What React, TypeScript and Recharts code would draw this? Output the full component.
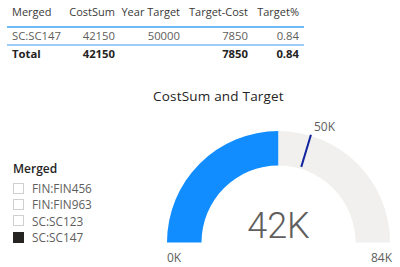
import React from "react";
import { PieChart, Pie, Cell } from "recharts";

const columns = ["Merged", "CostSum", "Year Target", "Target-Cost", "Target%"];
const rowValues = ["SC:SC147", "42150", "50000", "7850", "0.84"];
const totalValues = ["Total", "42150", "", "7850", "0.84"];
const legendItems = ["FIN:FIN456", "FIN:FIN963", "SC:SC123", "SC:SC147"];
const legendSelected = [false, false, false, true];

const costSum = 42150;
const yearTarget = 50000;
const gaugeMax = 84300;
const valueLabel = "42K";
const minLabel = "0K";
const maxLabel = "84K";
const targetLabel = "50K";

const valueData = [
  { name: "CostSum", value: costSum },
  { name: "Remaining", value: gaugeMax - costSum },
];
const targetData = [
  { name: "Target", value: yearTarget },
  { name: "Rest", value: gaugeMax - yearTarget },
];

const font = "'Open Sans', 'Noto Sans', sans-serif";
const colLeft = [12, 0, 0, 0, 0];
const colRight = [0, 115, 180, 248, 299];

const RAD = Math.PI / 180;

function TargetMarker(props: any) {
  if (props.index !== 0) return null;
  const { cx, cy, endAngle, innerRadius, outerRadius } = props;
  const a = -endAngle * RAD;
  const x1 = cx + (innerRadius + 2) * Math.cos(a);
  const y1 = cy + (innerRadius + 2) * Math.sin(a);
  const x2 = cx + (outerRadius + 1) * Math.cos(a);
  const y2 = cy + (outerRadius + 1) * Math.sin(a);
  const tx = cx + (outerRadius + 8) * Math.cos(a);
  const ty = cy + (outerRadius + 8) * Math.sin(a);
  return (
    <g>
      <line x1={x1} y1={y1} x2={x2} y2={y2} stroke="#12239E" strokeWidth={2} />
      <text x={tx + 1} y={ty - 2} fill="#605E5C" fontSize={12} fontFamily={font} textAnchor="start" dominantBaseline="central">
        {targetLabel}
      </text>
    </g>
  );
}

function GaugeLabels(props: any) {
  if (props.index !== 0) return null;
  const { cx, cy, outerRadius } = props;
  return (
    <g>
      <text x={cx} y={cy - 17} fill="#605E5C" fontSize={36} fontFamily="Roboto, sans-serif" fontWeight={300} textAnchor="middle" dominantBaseline="central">
        {valueLabel}
      </text>
      <text x={cx - outerRadius} y={cy + 15} fill="#605E5C" fontSize={12} fontFamily={font} textAnchor="start" dominantBaseline="central">
        {minLabel}
      </text>
      <text x={cx + outerRadius + 2} y={cy + 15} fill="#605E5C" fontSize={12} fontFamily={font} textAnchor="end" dominantBaseline="central">
        {maxLabel}
      </text>
    </g>
  );
}

export default function App() {
  return (
    <div style={{ position: "absolute", left: 0, top: 0, width: 400, height: 267, background: "#fff", fontFamily: font, overflow: "hidden" }}>
      {/* Table */}
      <div style={{ position: "absolute", left: 7, top: 25.5, width: 297, height: 2, background: "#4AA9F5", opacity: 0.8 }} />
      <div style={{ position: "absolute", left: 7, top: 43.5, width: 297, height: 2, background: "#9CCEF7" }} />
      {columns.map((c, i) => (
        <div key={"h" + i} style={{ position: "absolute", top: 4, fontSize: 11, color: "#3B3A39", whiteSpace: "nowrap", lineHeight: "16px", ...(i === 0 ? { left: colLeft[i] } : { right: 400 - colRight[i] }) }}>
          {c}
        </div>
      ))}
      {rowValues.map((c, i) => (
        <div key={"r" + i} style={{ position: "absolute", top: 28, fontSize: 11.3, color: "#605E5C", whiteSpace: "nowrap", lineHeight: "16px", ...(i === 0 ? { left: colLeft[i] } : { right: 400 - colRight[i] }) }}>
          {c}
        </div>
      ))}
      {totalValues.map((c, i) => (
        <div key={"t" + i} style={{ position: "absolute", top: 45.5, fontSize: 11.3, fontWeight: 700, color: "#252423", whiteSpace: "nowrap", lineHeight: "16px", ...(i === 0 ? { left: colLeft[i] } : { right: 400 - colRight[i] }) }}>
          {c}
        </div>
      ))}

      {/* Legend */}
      <div style={{ position: "absolute", left: 13, top: 161, fontSize: 12, fontWeight: 600, color: "#252423", lineHeight: "16px" }}>Merged</div>
      {legendItems.map((c, i) => (
        <div key={"l" + i} style={{ position: "absolute", left: 13, top: 180 + i * 16.4, height: 16, display: "flex", alignItems: "center" }}>
          <div style={{ width: 9, height: 9, border: legendSelected[i] ? "1px solid #252423" : "1px solid #D0D0D0", background: legendSelected[i] ? "#252423" : "#fff" }} />
          <div style={{ marginLeft: 8, fontSize: 11.8, color: "#605E5C", whiteSpace: "nowrap" }}>{c}</div>
        </div>
      ))}

      {/* Title */}
      <div style={{ position: "absolute", left: 153, top: 87, fontSize: 13.5, color: "#252423", whiteSpace: "nowrap", lineHeight: "18px", letterSpacing: 0.2 }}>
        CostSum and Target
      </div>

      {/* Gauge */}
      <div style={{ position: "absolute", left: 0, top: 0 }}>
        <PieChart width={400} height={267} margin={{ top: 0, right: 0, bottom: 0, left: 0 }}>
          <Pie
            data={valueData}
            dataKey="value"
            cx={278.5}
            cy={242.5}
            startAngle={180}
            endAngle={0}
            innerRadius={77}
            outerRadius={111.5}
            stroke="none"
            isAnimationActive={false}
            label={GaugeLabels}
            labelLine={false}
          >
            <Cell fill="#118DFF" />
            <Cell fill="#F1F0EF" />
          </Pie>
          <Pie
            data={targetData}
            dataKey="value"
            cx={278.5}
            cy={242.5}
            startAngle={180}
            endAngle={0}
            innerRadius={77}
            outerRadius={111.5}
            fill="none"
            stroke="none"
            isAnimationActive={false}
            label={TargetMarker}
            labelLine={false}
          />
        </PieChart>
      </div>
    </div>
  );
}
